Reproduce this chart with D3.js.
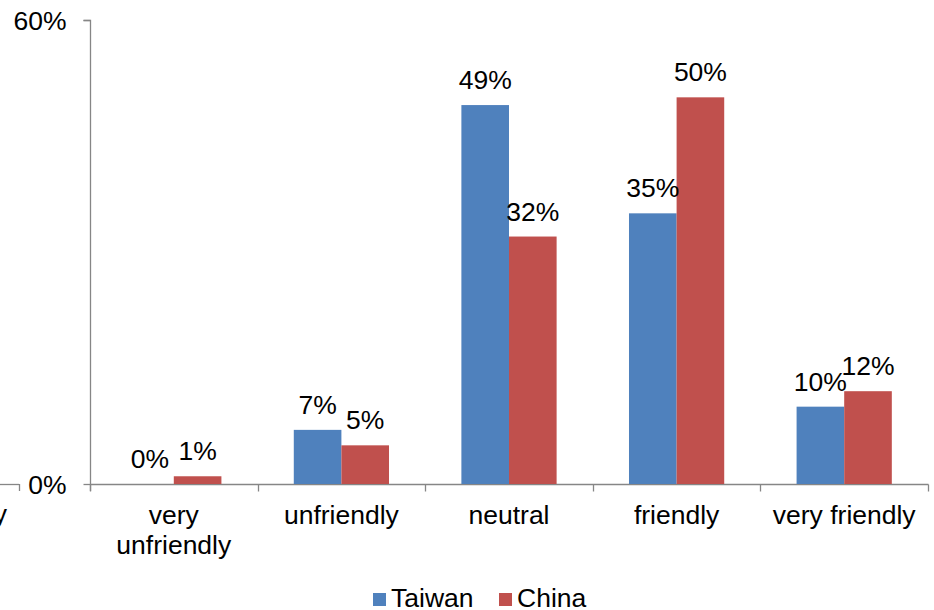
<!DOCTYPE html>
<html>
<head>
<meta charset="utf-8">
<script src="https://cdn.jsdelivr.net/npm/d3@7"></script>
<style>
  html, body { margin: 0; padding: 0; background: #fff; }
  svg { display: block; font-family: "Liberation Sans", Arial, sans-serif; }
</style>
</head>
<body>
<svg id="chart" width="934" height="610"></svg>
<script>
// Survey answers by attitude category
const categories = ["very\nunfriendly", "unfriendly", "neutral", "friendly", "very friendly"];
const seriesNames = ["Taiwan", "China"];
const taiwanValues = [0, 7, 49, 35, 10];
const chinaValues = [1, 5, 32, 50, 12];
const yTicks = [0, 60];
const colors = ["#4F81BD", "#C0504D"];

const svg = d3.select("#chart");
const axisColor = "#868686";
const fontSize = 26.5;

const plot = { left: 90, right: 928, top: 20, bottom: 484 };

const x0 = d3.scaleBand().domain(categories).range([plot.left, plot.right]).paddingInner(0).paddingOuter(0);
const x1 = d3.scaleBand().domain(seriesNames).range([0, x0.bandwidth()]).paddingInner(0).paddingOuter(0.76);
const y = d3.scaleLinear().domain([0, 60]).range([plot.bottom, plot.top]);

const seriesValues = [taiwanValues, chinaValues];

// Fragment of axis continuing off the left edge
svg.append("line").attr("x1", 0).attr("x2", 19).attr("y1", plot.bottom + 0.5).attr("y2", plot.bottom + 0.5)
  .attr("stroke", axisColor).attr("stroke-width", 1.3);
svg.append("line").attr("x1", 19.5).attr("x2", 19.5).attr("y1", plot.bottom).attr("y2", plot.bottom + 7)
  .attr("stroke", axisColor).attr("stroke-width", 1.3);
svg.append("text").attr("x", 7).attr("y", 523).attr("text-anchor", "end")
  .attr("font-size", fontSize).attr("fill", "#000").text("very");

// Y axis
const yAxis = d3.axisLeft(y).tickValues(yTicks).tickSize(7).tickFormat(d => d + "%");
const gy = svg.append("g").attr("transform", `translate(${plot.left + 0.5},0)`).call(yAxis);
gy.select(".domain").attr("stroke", axisColor).attr("stroke-width", 1.3)
  .attr("d", `M-7,${plot.top + 0.5}H0V${plot.bottom + 7}`);
gy.selectAll(".tick line").attr("stroke", axisColor).attr("stroke-width", 1.3);
gy.selectAll(".tick text").attr("font-size", fontSize).attr("fill", "#000")
  .attr("font-family", "Liberation Sans, Arial, sans-serif")
  .attr("x", -24).attr("dy", "0.34em");

// X axis
const xAxis = d3.axisBottom(x0).tickSize(0).tickFormat("");
const gx = svg.append("g").attr("transform", `translate(0,${plot.bottom + 0.5})`).call(xAxis);
gx.select(".domain").attr("stroke", axisColor).attr("stroke-width", 1.3)
  .attr("d", `M${plot.left},0H${plot.right + 0.5}`);
const boundaries = categories.map(c => x0(c)).concat([plot.right]);
gx.selectAll(".sep").data(boundaries).join("line").attr("class", "sep")
  .attr("x1", d => Math.round(d) + 0.5).attr("x2", d => Math.round(d) + 0.5)
  .attr("y1", 0).attr("y2", 7).attr("stroke", axisColor).attr("stroke-width", 1.3);

// Category labels
const catLabels = svg.append("g");
categories.forEach(c => {
  const cx = x0(c) + x0.bandwidth() / 2;
  const t = catLabels.append("text").attr("x", cx).attr("y", 524)
    .attr("text-anchor", "middle").attr("font-size", fontSize).attr("fill", "#000");
  c.split("\n").forEach((line, i) => {
    t.append("tspan").attr("x", cx).attr("dy", i === 0 ? 0 : 30).text(line);
  });
});

// Bars and value labels
const groups = svg.append("g").selectAll("g").data(categories).join("g")
  .attr("transform", d => `translate(${x0(d)},0)`);

seriesNames.forEach((s, si) => {
  groups.append("rect")
    .attr("x", x1(s))
    .attr("width", x1.bandwidth())
    .attr("y", (d, i) => y(seriesValues[si][i]))
    .attr("height", (d, i) => y(0) - y(seriesValues[si][i]))
    .attr("fill", colors[si]);
});

seriesNames.forEach((s, si) => {
  groups.append("text")
    .attr("x", x1(s) + x1.bandwidth() / 2)
    .attr("y", (d, i) => y(seriesValues[si][i]) - 16)
    .attr("text-anchor", "middle")
    .attr("font-size", fontSize)
    .attr("fill", "#000")
    .text((d, i) => seriesValues[si][i] + "%");
});

// Legend
const legend = svg.append("g").attr("transform", "translate(373,593)");
const legendPos = [0, 126];
seriesNames.forEach((s, i) => {
  legend.append("rect").attr("x", legendPos[i]).attr("y", 0).attr("width", 13).attr("height", 13).attr("fill", colors[i]);
  legend.append("text").attr("x", legendPos[i] + 18).attr("y", 14).attr("font-size", fontSize).attr("fill", "#000").text(s);
});
</script>
</body>
</html>
